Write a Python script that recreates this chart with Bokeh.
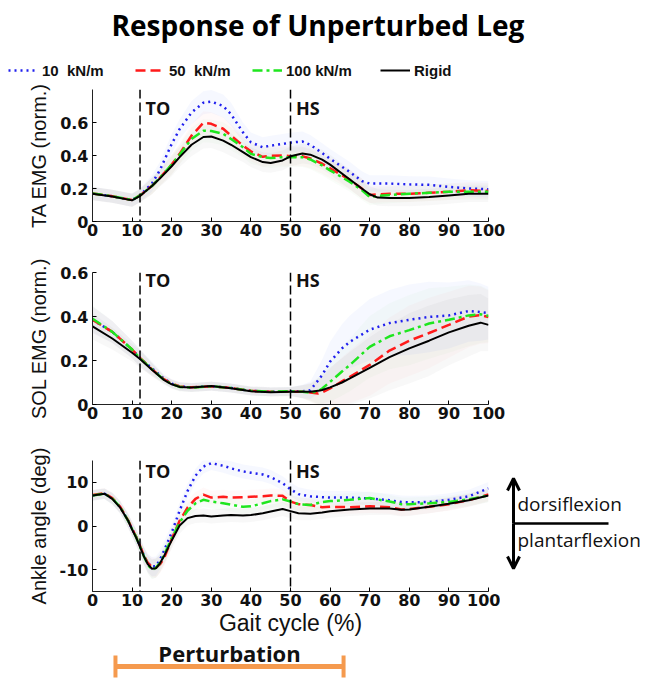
from bokeh.plotting import figure
from bokeh.layouts import column, row
from bokeh.models import (Range1d, FixedTicker, Span, Label, Legend, LegendItem,
                          Arrow, OpenHead, TeeHead)
from bokeh.embed import file_html
from bokeh.resources import INLINE

# ---------------- data ----------------
series_names = ["10  kN/m", "50  kN/m", "100 kN/m", "Rigid"]
events = [12, 50]
event_labels = ["TO", "HS"]
perturbation = [5.8, 63.4]

# TA EMG (norm.)
ta_x = [0, 5, 10, 12, 15, 17, 20, 22, 25, 28, 30, 33, 35, 38, 40, 43, 45, 48, 50, 53,
        55, 58, 60, 65, 68, 70, 72, 75, 80, 85, 90, 95, 100]
ta_10 = [0.17, 0.153, 0.13, 0.158, 0.23, 0.31, 0.47, 0.56, 0.66, 0.72, 0.727, 0.70, 0.65,
         0.54, 0.48, 0.45, 0.46, 0.47, 0.478, 0.485, 0.465, 0.415, 0.38, 0.30, 0.245,
         0.23, 0.23, 0.23, 0.225, 0.222, 0.21, 0.20, 0.195]
ta_50 = [0.17, 0.153, 0.13, 0.158, 0.215, 0.265, 0.345, 0.41, 0.52, 0.598, 0.592, 0.562,
         0.52, 0.46, 0.425, 0.392, 0.398, 0.40, 0.396, 0.395, 0.382, 0.35, 0.322, 0.252,
         0.20, 0.16, 0.165, 0.168, 0.168, 0.174, 0.18, 0.19, 0.185]
ta_100 = [0.17, 0.153, 0.13, 0.158, 0.215, 0.265, 0.345, 0.405, 0.50, 0.55, 0.548, 0.532,
          0.50, 0.45, 0.41, 0.39, 0.385, 0.39, 0.39, 0.39, 0.376, 0.34, 0.31, 0.24, 0.19,
          0.148, 0.155, 0.16, 0.168, 0.174, 0.18, 0.18, 0.18]
ta_rigid = [0.168, 0.152, 0.128, 0.155, 0.215, 0.26, 0.335, 0.39, 0.465, 0.512, 0.515,
            0.49, 0.465, 0.42, 0.39, 0.36, 0.355, 0.37, 0.395, 0.412, 0.405, 0.375, 0.345,
            0.255, 0.20, 0.165, 0.145, 0.143, 0.143, 0.148, 0.158, 0.168, 0.168]
ta_sd = [0.04, 0.04, 0.04, 0.04, 0.05, 0.05, 0.06, 0.06, 0.07, 0.07, 0.07, 0.07, 0.07,
         0.06, 0.06, 0.06, 0.06, 0.06, 0.06, 0.06, 0.06, 0.06, 0.06, 0.06, 0.06, 0.05,
         0.05, 0.05, 0.05, 0.05, 0.05, 0.05, 0.05]

# SOL EMG (norm.)
sol_x = [0, 5, 10, 12, 15, 18, 20, 22, 25, 30, 35, 40, 45, 50, 53, 55, 57, 58, 60, 63,
         65, 70, 75, 80, 85, 90, 95, 98, 100]
sol_10 = [0.385, 0.33, 0.25, 0.21, 0.165, 0.118, 0.095, 0.082, 0.078, 0.083, 0.075, 0.062,
          0.058, 0.06, 0.06, 0.065, 0.11, 0.134, 0.195, 0.255, 0.285, 0.34, 0.37, 0.385,
          0.398, 0.405, 0.425, 0.42, 0.415]
sol_50 = [0.385, 0.33, 0.25, 0.212, 0.16, 0.115, 0.095, 0.082, 0.078, 0.083, 0.075, 0.062,
          0.058, 0.058, 0.058, 0.055, 0.05, 0.055, 0.073, 0.105, 0.126, 0.18, 0.245, 0.29,
          0.325, 0.362, 0.40, 0.406, 0.398]
sol_100 = [0.39, 0.33, 0.25, 0.21, 0.16, 0.113, 0.093, 0.08, 0.077, 0.083, 0.075, 0.062,
           0.058, 0.06, 0.058, 0.053, 0.06, 0.073, 0.103, 0.15, 0.18, 0.262, 0.31, 0.338,
           0.368, 0.385, 0.405, 0.41, 0.403]
sol_rigid = [0.355, 0.30, 0.235, 0.207, 0.158, 0.112, 0.092, 0.08, 0.077, 0.084, 0.074,
             0.06, 0.056, 0.058, 0.058, 0.058, 0.062, 0.066, 0.078, 0.10, 0.119, 0.167,
             0.215, 0.255, 0.29, 0.328, 0.358, 0.372, 0.362]
sol_sd = [0.06, 0.05, 0.04, 0.04, 0.03, 0.02, 0.02, 0.02, 0.02, 0.02, 0.02, 0.02, 0.02,
          0.02, 0.03, 0.04, 0.06, 0.07, 0.09, 0.11, 0.12, 0.14, 0.15, 0.16, 0.16, 0.15,
          0.14, 0.13, 0.12]

# Ankle angle (deg)
ank_x = [0, 3, 5, 7, 9, 10, 11, 12, 13, 14, 15, 16, 17, 18, 20, 22, 24, 26, 28, 30, 33,
         35, 38, 40, 43, 45, 48, 50, 52, 55, 58, 60, 65, 70, 75, 78, 80, 85, 90, 95, 100]
ank_10 = [7.0, 7.4, 6.3, 4.3, 1.2, -0.7, -2.5, -4.6, -6.8, -8.5, -9.3, -9.2, -7.8, -5.8,
          -1.5, 3.5, 8.0, 11.5, 13.6, 14.4, 13.8, 13.2, 12.5, 12.2, 11.8, 11.2, 9.8, 8.4,
          7.3, 6.8, 6.6, 6.5, 6.5, 6.3, 5.9, 5.5, 5.4, 5.5, 6.0, 6.8, 8.6]
ank_50 = [7.1, 7.5, 6.4, 4.4, 1.3, -0.6, -2.4, -4.5, -6.8, -8.5, -9.4, -9.6, -8.8, -7.5,
          -3.0, 1.2, 4.2, 6.2, 7.2, 6.5, 6.7, 6.5, 6.6, 6.7, 6.8, 7.0, 6.9, 5.6, 5.0, 4.8,
          4.3, 4.4, 4.3, 4.5, 4.3, 3.8, 3.9, 4.4, 5.0, 5.9, 7.2]
ank_100 = [7.0, 7.4, 6.3, 4.3, 1.2, -0.7, -2.5, -4.7, -7.0, -8.9, -10.0, -9.6, -8.5, -6.8,
           -2.8, 0.8, 3.5, 5.2, 6.0, 5.6, 5.2, 4.9, 4.4, 4.5, 5.2, 5.7, 6.1, 5.6, 5.0, 4.8,
           5.5, 5.7, 6.0, 6.4, 5.6, 5.0, 5.0, 5.2, 5.5, 6.1, 7.0]
ank_rigid = [7.0, 7.4, 6.2, 4.2, 1.2, -0.8, -2.6, -4.8, -7.0, -8.8, -9.8, -9.7, -8.6, -7.0,
             -3.3, 0.1, 1.8, 2.3, 2.4, 2.2, 2.4, 2.5, 2.4, 2.5, 2.9, 3.3, 3.9, 3.4, 2.9,
             2.8, 3.1, 3.4, 3.8, 4.0, 4.0, 3.7, 3.8, 4.4, 5.1, 5.9, 7.0]
ank_sd = [1.2, 1.2, 1.3, 1.4, 1.6, 1.7, 1.8, 1.9, 2.0, 2.1, 2.2, 2.2, 2.1, 2.0, 1.9, 1.8,
          1.7, 1.6, 1.6, 1.6, 1.6, 1.6, 1.6, 1.6, 1.6, 1.6, 1.6, 1.6, 1.6, 1.5, 1.5, 1.5,
          1.5, 1.5, 1.5, 1.5, 1.5, 1.5, 1.5, 1.5, 1.5]

# ---------------- styles ----------------
colors = ["#1f1fee", "#ff1a1a", "#1ee61e", "#000000"]
dashes = ["2 4", "10 5", "10 4 3 4", "solid"]
widths = [2.5, 2.5, 2.5, 2]
band_alpha = [0.07, 0.05, 0.05, 0.06]
band_colors = ["#7f9fff", "#ff8080", "#80e080", "#909090"]

W = 647
LEFT, FRAME_W = 92, 396
RIGHT = W - LEFT - FRAME_W
TICK_FONT = "DejaVu Sans"
TXT = "#111111"


def no_frame_align(p):
    if "frame_align" in p.properties():
        p.frame_align = False


def blank_fig(width, height, xr, yr, **borders):
    p = figure(width=width, height=height, x_range=xr, y_range=yr,
               output_backend="svg", toolbar_location=None,
               x_axis_location=None, y_axis_location=None, **borders)
    p.outline_line_color = None
    p.grid.grid_line_color = None
    return p


def make_fig(width, height, top, bottom, right, yr, yticks, ylabel, xr=None):
    p = figure(width=width, height=height, x_range=xr if xr is not None else Range1d(0, 100),
               y_range=Range1d(*yr), output_backend="svg", toolbar_location=None,
               min_border_left=LEFT, min_border_right=right,
               min_border_top=top, min_border_bottom=bottom)
    p.outline_line_color = None
    p.grid.grid_line_color = None
    for ax in (p.xaxis[0], p.yaxis[0]):
        ax.axis_line_color = "#222222"
        ax.axis_line_width = 1
        ax.major_tick_in = 4
        ax.major_tick_out = 0
        ax.minor_tick_line_color = None
        ax.major_label_text_font = TICK_FONT
        ax.major_label_text_font_style = "bold"
        ax.major_label_text_font_size = "16px"
        ax.major_label_text_color = TXT
    p.xaxis.ticker = FixedTicker(ticks=list(range(0, 101, 10)))
    p.xaxis.major_label_standoff = 2
    p.yaxis.ticker = FixedTicker(ticks=yticks)
    p.yaxis.major_label_overrides = {t: ("%g" % t) for t in yticks}
    p.yaxis.major_label_standoff = 4
    p.yaxis.axis_label = ylabel
    p.yaxis.axis_label_text_font = "Liberation Sans"
    p.yaxis.axis_label_text_font_style = "normal"
    p.yaxis.axis_label_text_font_size = "20px"
    p.yaxis.axis_label_standoff = 7
    p.yaxis.axis_label_text_color = TXT
    return p


def draw(p, x, ys, sd, bands=True, visible=True):
    rs = []
    if bands:
        for y, c, a in zip(ys, band_colors, band_alpha):
            p.varea(x=x, y1=[v - s for v, s in zip(y, sd)],
                    y2=[v + s for v, s in zip(y, sd)], fill_color=c, fill_alpha=a)
    for y, c, d, w in zip(ys, colors, dashes, widths):
        rs.append(p.line(x, y, line_color=c, line_dash=d, line_width=w, visible=visible))
    return rs


def events_marks(p, ymid):
    for ev, lab in zip(events, event_labels):
        p.add_layout(Span(location=ev, dimension="height", line_color="black",
                          line_dash="9 4", line_width=1.5))
        p.add_layout(Label(x=ev + 1.4, y=ymid, text=lab, text_font="Open Sans",
                           text_font_style="bold", text_font_size="18px",
                           text_color=TXT, text_baseline="middle"))


# ---------------- header: title + legend ----------------
HEAD_H = 80
head = blank_fig(W, HEAD_H, Range1d(0, W), Range1d(HEAD_H, 0),
                 min_border=0, min_border_left=0, min_border_right=0,
                 min_border_top=0, min_border_bottom=0)
no_frame_align(head)
head.add_layout(Label(x=317.5, y=24, text="Response of Unperturbed Leg",
                      text_font="Open Sans", text_font_style="bold", text_font_size="28px",
                      text_align="center", text_baseline="middle", text_color="black"))
legend_r = draw(head, ta_x, [ta_10, ta_50, ta_100, ta_rigid], ta_sd, bands=False,
                visible=False)
legend_x = [8, 135, 252, 380]
for name, r, lx in zip(series_names, legend_r, legend_x):
    head.add_layout(Legend(items=[LegendItem(label=name, renderers=[r])], location=(lx, 0),
                           orientation="horizontal", padding=0, margin=0, spacing=0,
                           border_line_alpha=0, background_fill_alpha=0,
                           inactive_fill_alpha=0, click_policy="none",
                           glyph_width=30, glyph_height=20, label_height=20,
                           label_standoff=4, label_text_font="Liberation Sans",
                           label_text_font_style="bold", label_text_font_size="15px",
                           label_text_color=TXT))

# ---------------- panel 1 ----------------
p1 = make_fig(W, 175, 9, 34, RIGHT, (0, 0.8), [0, 0.2, 0.4, 0.6], "TA EMG (norm.)")
draw(p1, ta_x, [ta_10, ta_50, ta_100, ta_rigid], ta_sd)
events_marks(p1, 0.685)

# ---------------- panel 2 ----------------
p2 = make_fig(W, 185, 17, 36, RIGHT, (0, 0.6), [0, 0.2, 0.4, 0.6], "SOL EMG (norm.)")
draw(p2, sol_x, [sol_10, sol_50, sol_100, sol_rigid], sol_sd)
events_marks(p2, 0.564)

# ---------------- panel 3 ----------------
P3_W, P3_TOP, P3_BOT = 500, 20, 46
P3_H = P3_TOP + 132 + P3_BOT
p3 = make_fig(P3_W, P3_H, P3_TOP, P3_BOT, P3_W - LEFT - FRAME_W, (-15, 15), [-10, 0, 10],
              "Ankle angle (deg)")
draw(p3, ank_x, [ank_10, ank_50, ank_100, ank_rigid], ank_sd)
events_marks(p3, 12.6)
p3.xaxis.axis_label = "Gait cycle (%)"
p3.xaxis.axis_label_text_font = "Liberation Sans"
p3.xaxis.axis_label_text_font_style = "normal"
p3.xaxis.axis_label_text_font_size = "23px"
p3.xaxis.axis_label_standoff = 1
p3.xaxis.axis_label_text_color = TXT

# dorsiflexion / plantarflexion indicator (continues the gait-cycle scale to the right)
px_per_unit = FRAME_W / 100.0
dx0 = (P3_W - LEFT) / px_per_unit
dx1 = (W - LEFT) / px_per_unit
dors = blank_fig(W - P3_W, P3_H, Range1d(dx0, dx1), p3.y_range,
                 min_border=0, min_border_left=0, min_border_right=0,
                 min_border_top=P3_TOP, min_border_bottom=P3_BOT)
no_frame_align(dors)
ax_x = dx0 + 13 / px_per_unit
dors.add_layout(Arrow(start=None, end=OpenHead(size=12, line_width=3),
                      x_start=ax_x, y_start=0.68, x_end=ax_x, y_end=10.9, line_width=3))
dors.add_layout(Arrow(start=None, end=OpenHead(size=12, line_width=3),
                      x_start=ax_x, y_start=0.68, x_end=ax_x, y_end=-9.55, line_width=3))
dors.add_layout(Arrow(start=None, end=None, x_start=ax_x, y_start=0.68,
                      x_end=ax_x + 95 / px_per_unit, y_end=0.68, line_width=2.5))
dors.add_layout(Label(x=ax_x + 4 / px_per_unit, y=5.2, text="dorsiflexion",
                      text_font="Open Sans", text_font_size="19px",
                      text_baseline="middle", text_color=TXT))
dors.add_layout(Label(x=ax_x + 4 / px_per_unit, y=-3.0, text="plantarflexion",
                      text_font="Open Sans", text_font_size="19px",
                      text_baseline="middle", text_color=TXT))

# ---------------- perturbation bar (shares the gait-cycle axis) ----------------
PERT_H = 42
pert = blank_fig(W, PERT_H, p3.x_range, Range1d(PERT_H, 0),
                 min_border=0, min_border_left=LEFT, min_border_right=RIGHT,
                 min_border_top=0, min_border_bottom=0)
orange = "#F59A4E"
pert.add_layout(Arrow(start=TeeHead(size=22, line_width=4, line_color=orange),
                      end=TeeHead(size=22, line_width=4, line_color=orange),
                      x_start=perturbation[0], y_start=28,
                      x_end=perturbation[1], y_end=28,
                      line_color=orange, line_width=5))
pert.add_layout(Label(x=(perturbation[0] + perturbation[1]) / 2, y=14, text="Perturbation",
                      text_font="Open Sans", text_font_style="bold", text_font_size="22px",
                      text_align="center", text_baseline="middle", text_color=TXT))

layout = column(head, p1, p2, row(p3, dors, spacing=0), pert, spacing=0)
open("out.html", "w").write(file_html(layout, INLINE, title="Response of Unperturbed Leg"))
